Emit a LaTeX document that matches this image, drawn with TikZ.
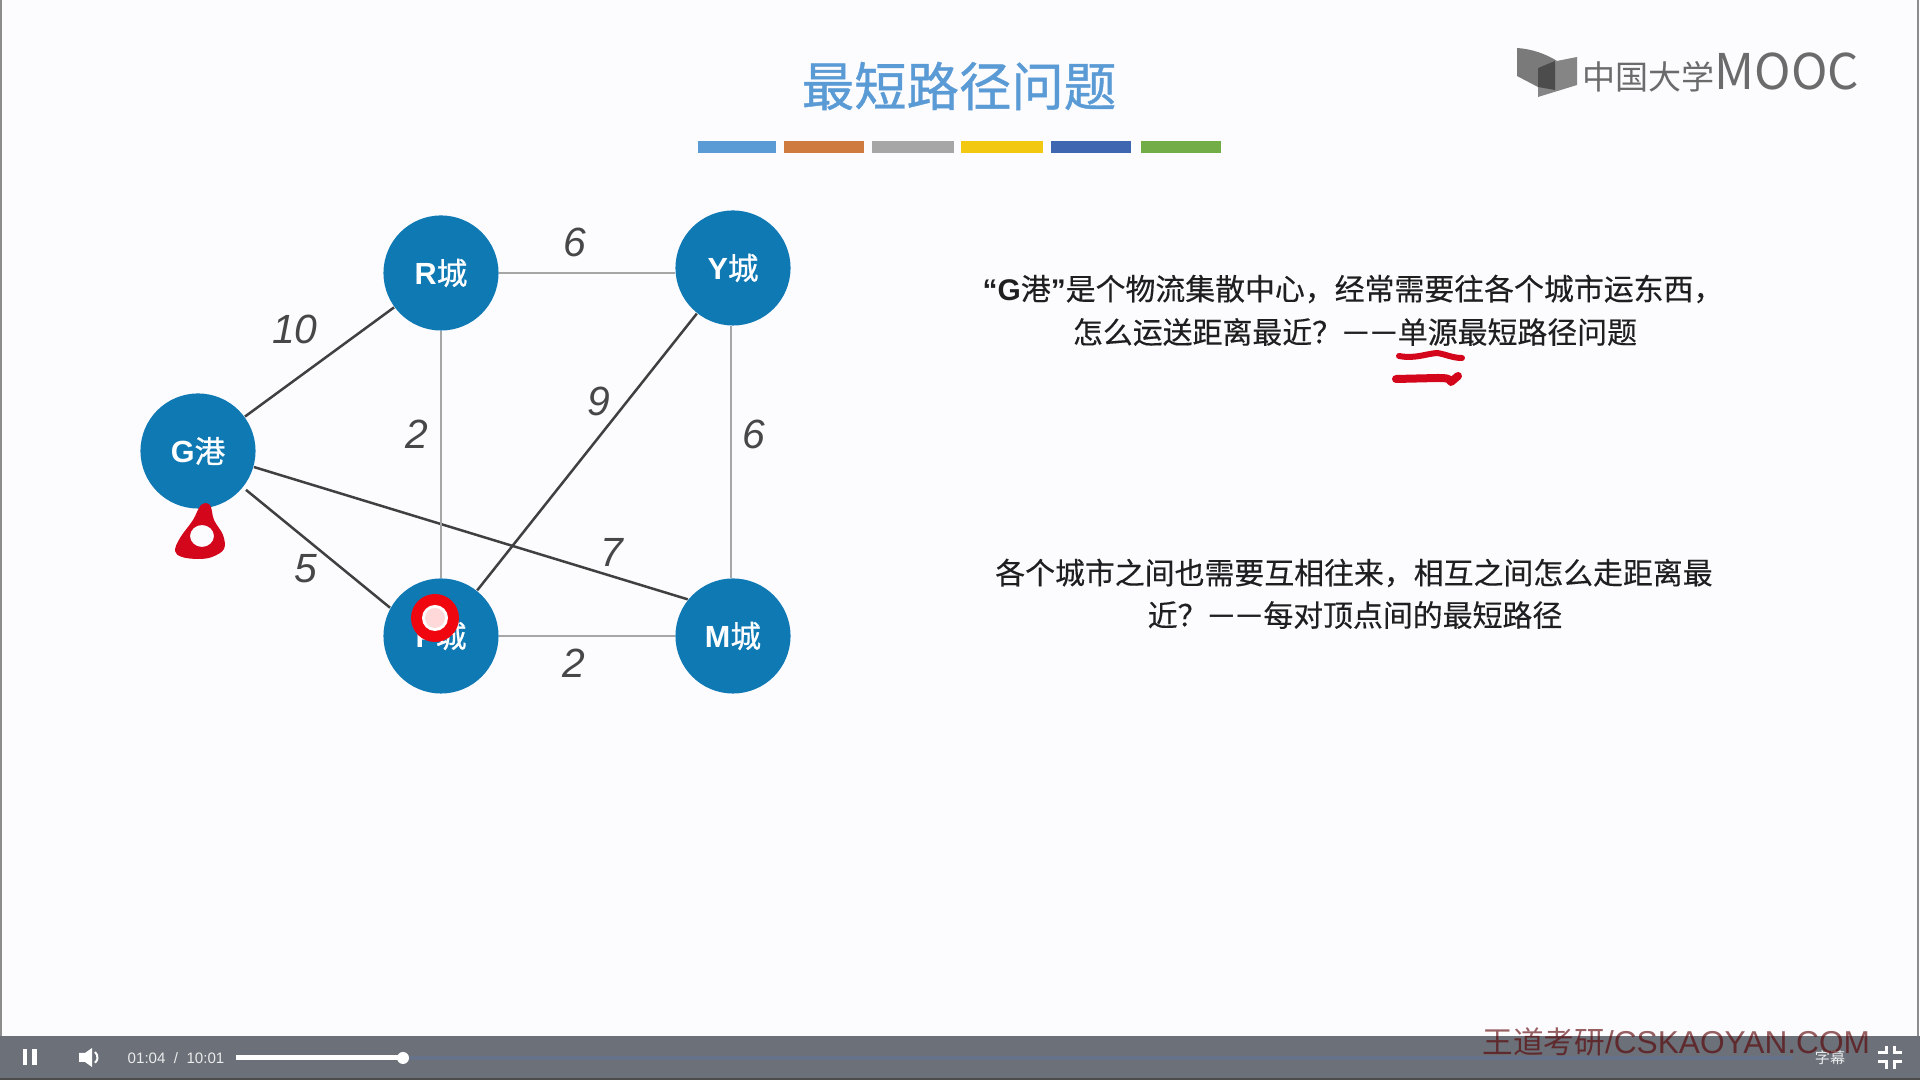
\documentclass[tikz,border=0pt]{standalone}
\usepackage{fontspec}
\usepackage{xcolor}
\usetikzlibrary{positioning, calc}
\newfontfamily\cjk{Noto Sans CJK SC}
\newfontfamily\cjkmid[FakeBold=0.3]{Noto Sans CJK SC}
\newfontfamily\cjkheavy[FakeBold=0.8]{Noto Sans CJK SC}
\newfontfamily\latinsans{Liberation Sans}
\definecolor{cityblue}{HTML}{0F79B4}
\definecolor{titleblue}{HTML}{5B9BD5}
\definecolor{barbg}{HTML}{6B7079}
\definecolor{barrest}{HTML}{66728A}
\definecolor{inkred}{HTML}{D4061C}
\definecolor{dotred}{HTML}{F0060F}
\newcommand{\twodash}{\kern0.08em\raisebox{1pt}{\latinsans\bfseries\fontsize{6.6pt}{8pt}\selectfont —\kern0.2em—}\kern0.08em}
\newcommand{\cityname}[2]{{\latinsans\bfseries #1}#2}
\tikzset{
    city_node/.style={circle, fill=cityblue, text=white, minimum size=1.15cm, inner sep=0pt, font=\cjkheavy\fontsize{8.7pt}{10pt}\selectfont},
    dark_road/.style={draw=black!75, line width=0.025cm},
    gray_road/.style={draw=black!35, line width=0.028cm},
    weight/.style={text=black!72, font=\latinsans\itshape\fontsize{11.6pt}{14pt}\selectfont},
    note/.style={text=black!88, font=\cjkmid\fontsize{8.5pt}{10pt}\selectfont},
    ink/.style={draw=inkred, line cap=round, line join=round},
    stripe/.style={minimum height=0.12cm, inner sep=0pt},
    player_text/.style={text=white!92!black, inner sep=0pt, font=\latinsans\fontsize{4.3pt}{5pt}\selectfont}
}
\begin{document}
\begin{tikzpicture}[x=0.01cm, y=-0.01cm]
    \useasboundingbox (0,0) rectangle (1920,1080);
    \fill[white!99!blue] (0,0) rectangle (1920,1080);
    \draw[black!45, line width=0.02cm] (1,0) -- (1,1036);
    \draw[black!45, line width=0.02cm] (1918,0) -- (1918,1036);
    % Title and colour stripes
    \node[text=titleblue, font=\cjkheavy\fontsize{14.9pt}{18pt}\selectfont] (title) at (959,86) {最短路径问题};
    \node[stripe, fill=titleblue, minimum width=0.78cm] (stripeA) at (737,147) {};
    \node[stripe, fill={rgb,255:red,207;green,123;blue,63}, minimum width=0.80cm] (stripeB) at (824,147) {};
    \node[stripe, fill=black!35, minimum width=0.81cm] (stripeC) at (913,147) {};
    \node[stripe, fill={rgb,255:red,242;green,200;blue,17}, minimum width=0.81cm] (stripeD) at (1002,147) {};
    \node[stripe, fill={rgb,255:red,63;green,103;blue,177}, minimum width=0.80cm] (stripeE) at (1091,147) {};
    \node[stripe, fill={rgb,255:red,114;green,173;blue,71}, minimum width=0.79cm] (stripeF) at (1181,147) {};
    % Logo
    \fill[black!52] (1517,48) .. controls (1532,49) and (1546,54) .. (1557,61) -- (1538,68) -- (1538,87) -- (1517,76) -- cycle;
    \fill[black!48] (1557,61) -- (1577,57) -- (1577,85) -- (1538,97) -- (1538,68) -- cycle;
    \fill[black!70] (1538,68) -- (1555,61) -- (1555,90) -- (1538,87) -- cycle;
    \node[anchor=west, inner sep=0pt, text=black!58, font=\cjk\fontsize{9.4pt}{11pt}\selectfont] (logo) at (1582,72) {中国大学\fontsize{14pt}{15pt}\selectfont MOOC};
    % Roads
    \node[city_node] (G) at (198,451) {\cityname{G}{港}};
    \node[city_node] (R) at (441,273) {\cityname{R}{城}};
    \node[city_node] (Y) at (733,268) {\cityname{Y}{城}};
    \node[city_node] (P) at (441,636) {\cityname{P}{城}};
    \node[city_node] (M) at (733,636) {\cityname{M}{城}};
    \draw[dark_road] (G) -- (R);
    \draw[dark_road, shorten <=1pt] (G.-39) -- (P.151);
    \draw[dark_road] (G.-16) -- (M.141);
    \draw[dark_road] (Y) -- (P);
    \draw[gray_road] (R) -- (P);
    \draw[gray_road] (R.east) -- (R.east -| Y.west);
    \draw[gray_road] (Y.-92) -- (M.92);
    \draw[gray_road] (P) -- (M);
    % Weights
    \node[weight] (wGR) at (295,329) {10};
    \node[weight] (wRY) at (575,242) {6};
    \node[weight] (wRP) at (417,434) {2};
    \node[weight] (wYP) at (599,401) {9};
    \node[weight] (wYM) at (754,434) {6};
    \node[weight] (wGM) at (612,552) {7};
    \node[weight] (wGP) at (306,569) {5};
    \node[weight] (wPM) at (574,663) {2};
    % Notes
    \node[note] (noteA) at (1353,289) {{\latinsans\bfseries “G}港{\latinsans\bfseries ”}是个物流集散中心，经常需要往各个城市运东西，};
    \node[note] (noteB) at (1355,332) {怎么运送距离最近？\twodash 单源最短路径问题};
    \node[note] (noteC) at (1354,573) {各个城市之间也需要互相往来，相互之间怎么走距离最};
    \node[note] (noteD) at (1355,615) {近？\twodash 每对顶点间的最短路径};
    % Hand marks
    \fill[inkred, even odd rule] plot[smooth cycle, tension=0.6] coordinates {(201,505) (210,505) (214,520) (223,535) (224,549) (212,557) (198,559) (182,557) (175,551) (180,538) (193,520)}
        (202,536) ellipse (12 and 11);
    \draw[ink, line width=0.06cm] (1399,356) .. controls (1415,359) and (1425,354) .. (1437,353) .. controls (1445,354) and (1452,358) .. (1462,358);
    \draw[ink, line width=0.08cm] (1396,379) -- (1438,378) .. controls (1445,378) and (1450,378) .. (1451,382) -- (1458,376);
    \fill[dotred] (435,618) circle (24);
    \fill[white] (435,618) circle (13);
    \fill[red!15!white] (435,618) circle (10);
    % Player bar
    \fill[barbg] (0,1036) rectangle (1920,1080);
    \fill[black!70] (0,1078) rectangle (1920,1080);
    \fill[white] (23,1049) rectangle (27,1065);
    \fill[white] (32,1049) rectangle (37,1065);
    \fill[white] (79,1053) -- (85,1053) -- (92,1048) -- (92,1067) -- (85,1062) -- (79,1062) -- cycle;
    \draw[white, line width=0.02cm] (95,1052) arc (-50:50:7);
    \node[player_text, anchor=west] (clock) at (127,1058) {01:04~~/~~10:01};
    \fill[barrest] (403,1056) rectangle (1793,1060);
    \fill[white] (236,1055) rectangle (403,1060);
    \fill[white] (403,1058) circle (6);
    \node[player_text, font=\cjk\fontsize{4.3pt}{5pt}\selectfont] (subs) at (1830,1058) {字幕};
    \draw[white, line width=0.03cm] (1878,1053) -- (1886,1053) -- (1886,1046);
    \draw[white, line width=0.03cm] (1902,1053) -- (1894,1053) -- (1894,1046);
    \draw[white, line width=0.03cm] (1878,1062) -- (1886,1062) -- (1886,1069);
    \draw[white, line width=0.03cm] (1902,1062) -- (1894,1062) -- (1894,1069);
    % Watermark
    \node[anchor=west, inner sep=0pt, opacity=0.62, text=red!35!black, font=\cjk\fontsize{8.7pt}{10pt}\selectfont] (mark) at (1482,1042) {王道考研\latinsans\fontsize{9pt}{10pt}\selectfont/CSKAOYAN.COM};
\end{tikzpicture}
\end{document}
